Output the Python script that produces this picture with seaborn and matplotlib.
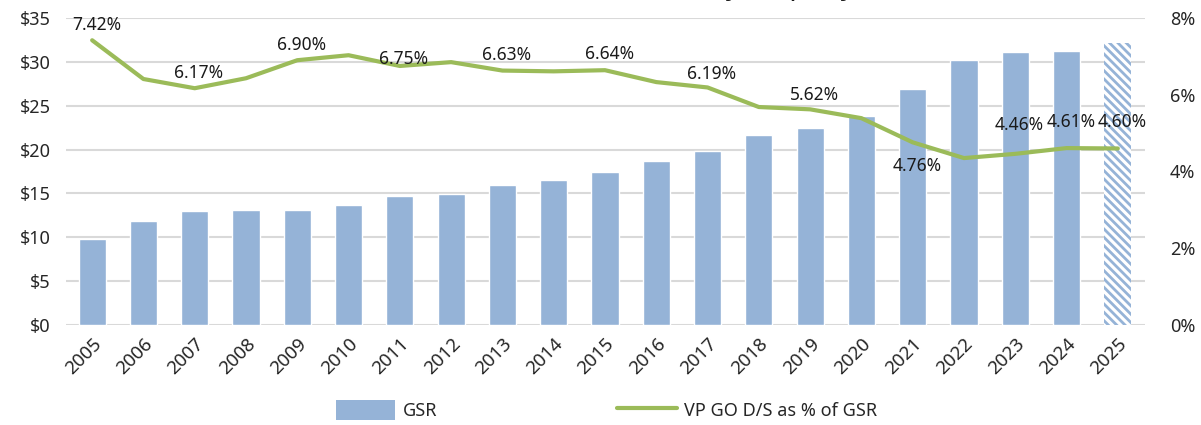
import matplotlib
matplotlib.use("Agg")
import matplotlib.pyplot as plt
import seaborn as sns
import numpy as np
import pandas as pd
from matplotlib.patches import Patch
from matplotlib.lines import Line2D

years = [str(y) for y in range(2005, 2026)]
gsr = [9.8, 11.9, 13.0, 13.1, 13.1, 13.7, 14.7, 14.9, 16.0, 16.5, 17.4,
       18.7, 19.8, 21.7, 22.5, 23.8, 26.9, 30.2, 31.1, 31.2, 32.2]
ds_pct = [7.42, 6.41, 6.17, 6.43, 6.90, 7.03, 6.75, 6.85, 6.63, 6.61, 6.64,
          6.33, 6.19, 5.68, 5.62, 5.39, 4.76, 4.35, 4.46, 4.61, 4.60]
label_years = ["2005", "2007", "2009", "2011", "2013", "2015", "2017",
               "2019", "2021", "2023", "2024", "2025"]
left_ticks = [0, 5, 10, 15, 20, 25, 30, 35]
right_ticks = [0, 2, 4, 6, 8]

# styling
bar_color = "#95B3D7"
line_color = "#9BBB59"
grid_color = "#D9D9D9"
label_dy = {"2005": 11, "2007": 11, "2009": 11, "2011": 5, "2013": 11,
            "2015": 12, "2017": 10, "2019": 10, "2021": -17, "2023": 21,
            "2024": 19, "2025": 19}

sns.set_theme(style="white")
plt.rcParams["font.family"] = ["Noto Sans", "DejaVu Sans"]
plt.rcParams["hatch.linewidth"] = 2.0

fig = plt.figure(figsize=(12.01, 4.25), dpi=100)
ax = fig.add_axes([66/1201, 1-325/425, (1145-66)/1201, (325-18)/425])

df = pd.DataFrame({"year": years, "gsr": gsr, "pct": ds_pct})
sns.barplot(data=df, x="year", y="gsr", color=bar_color, saturation=1,
            width=0.53, ax=ax, zorder=2)
last = ax.patches[len(years) - 1]
last.set_facecolor("white")
last.set_edgecolor(bar_color)
last.set_hatch("\\\\\\\\")
last.set_linewidth(0)

ax.set_ylim(0, 35)
ax.set_yticks(left_ticks)
ax.set_yticklabels([f"${v}" for v in left_ticks], fontsize=13)
ax.set_xlim(-0.51, len(years) - 1 + 0.53)
ax.set_xlabel("")
ax.set_ylabel("")
ax.set_xticks(range(len(years)))
ax.set_xticklabels(years, rotation=45, ha="right", rotation_mode="anchor",
                   fontsize=13.5)
ax.tick_params(axis="x", length=0, pad=7)
ax.tick_params(axis="y", length=0, pad=11)
ax.grid(axis="y", color=grid_color, linewidth=1.5, zorder=0)
ax.set_axisbelow(True)
for s in ax.spines.values():
    s.set_visible(False)

ax2 = ax.twinx()
sns.lineplot(x=np.arange(len(years)), y=ds_pct, color=line_color,
             linewidth=3, ax=ax2, zorder=3)
ax2.set_ylim(0, 8)
ax2.set_yticks(right_ticks)
ax2.set_yticklabels([f"{v}%" for v in right_ticks], fontsize=13)
ax2.tick_params(axis="y", length=0, pad=18)
ax2.grid(False)
for s in ax2.spines.values():
    s.set_visible(False)
ax2.set_xlim(ax.get_xlim())

for ly in label_years:
    i = years.index(ly)
    dy = label_dy[ly]
    ax2.annotate(f"{ds_pct[i]:.2f}%", (i, ds_pct[i]), xytext=(3, dy),
                 textcoords="offset points", ha="center", va="center",
                 fontsize=12.5, color="#1a1a1a", zorder=5)

# title, clipped at the top edge as in the reference
fig.text(0.475, 1 + 6/425, "GSR and VP GO Debt Service (Billions/yr, $ per year)",
         ha="center", va="baseline", fontsize=20, fontweight="bold",
         color="#1a1a1a")

handles = [Patch(facecolor=bar_color, edgecolor="none"),
           Line2D([0], [0], color=line_color, linewidth=3)]
fig.legend(handles, ["GSR", "VP GO D/S as % of GSR"], loc="center",
           bbox_to_anchor=(0.505, 0.035), ncol=2, frameon=False,
           fontsize=13, columnspacing=10, handlelength=3.3,
           handleheight=1.3, handletextpad=0.4)

fig.savefig("out.png", dpi=100)
